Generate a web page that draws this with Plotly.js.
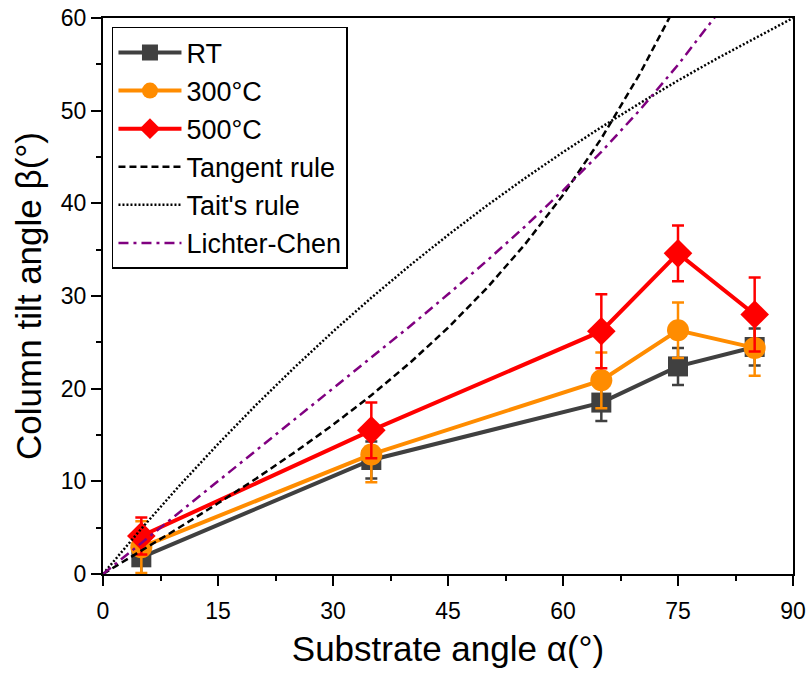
<!DOCTYPE html>
<html>
<head>
<meta charset="utf-8">
<script src="https://cdn.plot.ly/plotly-3.0.1.min.js"></script>
<style>html,body{margin:0;padding:0;background:#fff;}#chart{width:810px;height:677px;}</style>
</head>
<body>
<div id="chart"></div>
<script>
// Measured data (substrate angle α vs column tilt angle β)
const alpha = [5, 35, 65, 75, 85];
const betaRT = [1.8, 12.3, 18.5, 22.4, 24.5];
const errRT = [2, 2, 2, 2, 2];
const beta300 = [2.9, 12.9, 20.9, 26.3, 24.4];
const err300 = [2.8, 3, 3, 3, 3];
const beta500 = [4.1, 15.5, 26.2, 34.6, 28.0];
const err500 = [2, 3, 4, 3, 4];

// Model curves
const tangentAlpha = [0, 5, 10, 15, 20, 25, 30, 35, 40, 45, 50, 55, 60, 65, 70, 75];
const tangentBeta = [0, 2.5, 5.04, 7.63, 10.31, 13.13, 16.1, 19.29, 22.76, 26.57, 30.79, 35.53, 40.89, 47.0, 53.95, 61.8];
const taitAlpha = [0, 5, 10, 15, 20, 25, 30, 35, 40, 45, 50, 55, 60, 65, 70, 75, 80, 85, 90];
const taitBeta = [0, 4.89, 9.56, 14.02, 18.27, 22.31, 26.16, 29.81, 33.28, 36.58, 39.71, 42.69, 45.52, 48.22, 50.79, 53.25, 55.59, 57.84, 60];
const lcAlpha = [0, 5, 10, 15, 20, 25, 30, 35, 40, 45, 50, 55, 60, 65, 70, 75, 80];
const lcBeta = [0, 3.33, 6.66, 9.98, 13.31, 16.64, 19.96, 23.31, 26.71, 30.18, 33.75, 37.47, 41.38, 45.55, 50.05, 54.94, 60.3];

const seriesNames = ['RT', '300°C', '500°C', 'Tangent rule', "Tait's rule", 'Lichter-Chen'];

const FONT = 'Liberation Sans, Arial, sans-serif';

function dataTrace(y, err, name, color, symbol, size) {
  return {
    x: alpha, y: y, name: name, type: 'scatter', mode: 'lines+markers',
    line: {color: color, width: 4},
    marker: {color: color, symbol: symbol, size: size},
    error_y: {type: 'data', array: err, visible: true, color: color, thickness: 2.5, width: 6},
    cliponaxis: false
  };
}

const traces = [
  dataTrace(betaRT, errRT, seriesNames[0], '#404040', 'square', 20),
  dataTrace(beta300, err300, seriesNames[1], '#ff8c00', 'circle', 22),
  dataTrace(beta500, err500, seriesNames[2], '#ff0000', 'diamond', 22),
  {x: tangentAlpha, y: tangentBeta, name: seriesNames[3], type: 'scatter', mode: 'lines',
   line: {color: '#000000', width: 2.5, dash: '7px,4px'}},
  {x: taitAlpha, y: taitBeta, name: seriesNames[4], type: 'scatter', mode: 'lines',
   line: {color: '#000000', width: 2.5, dash: '2px,2px'}},
  {x: lcAlpha, y: lcBeta, name: seriesNames[5], type: 'scatter', mode: 'lines',
   line: {color: '#800080', width: 2.5, dash: '10px,5px,3px,5px'}}
];

const axisCommon = {
  showline: true, linewidth: 2, linecolor: '#000', mirror: true,
  ticks: 'outside', ticklen: 10, tickwidth: 2, tickcolor: '#000',
  showgrid: false, zeroline: false,
  tickfont: {family: FONT, size: 23, color: '#000'}
};

const layout = {
  width: 810, height: 677,
  margin: {l: 103, r: 17, t: 18, b: 103},
  paper_bgcolor: '#fff', plot_bgcolor: '#fff',
  font: {family: FONT, color: '#000'},
  showlegend: true,
  legend: {
    x: 0.013, y: 0.984, xanchor: 'left', yanchor: 'top',
    bordercolor: '#000', borderwidth: 1.5, bgcolor: '#fff',
    font: {family: FONT, size: 27, color: '#000'},
    itemwidth: 63, tracegroupgap: 0
  },
  xaxis: Object.assign({}, axisCommon, {
    range: [0, 90], tick0: 0, dtick: 15,
    minor: {dtick: 7.5, ticks: 'outside', ticklen: 5, tickwidth: 2, tickcolor: '#000'},
    ticklabelstandoff: 5,
    title: {text: 'Substrate angle α(°)', font: {family: FONT, size: 35, color: '#000'}, standoff: 14}
  }),
  yaxis: Object.assign({}, axisCommon, {
    range: [0, 60], tick0: 0, dtick: 10,
    minor: {dtick: 5, ticks: 'outside', ticklen: 5, tickwidth: 2, tickcolor: '#000'},
    title: {text: 'Column tilt angle β(°)', font: {family: FONT, size: 35, color: '#000'}, standoff: 9}
  })
};

Plotly.newPlot('chart', traces, layout, {displayModeBar: false, staticPlot: true});
</script>
</body>
</html>
